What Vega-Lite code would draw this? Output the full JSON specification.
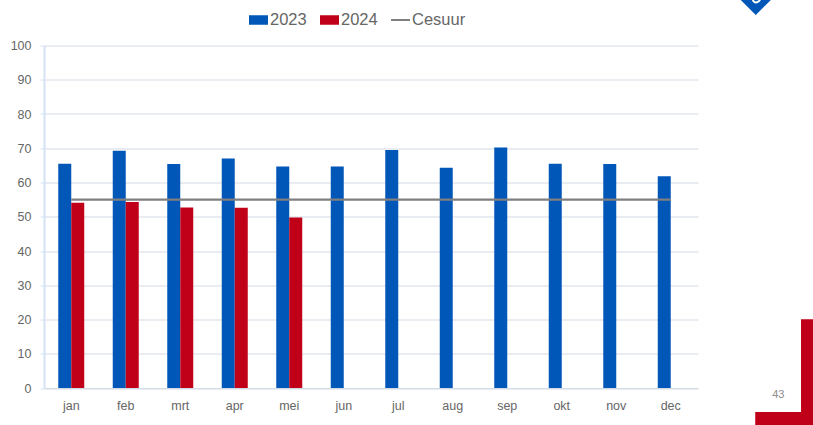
{
"$schema":"https://vega.github.io/schema/vega-lite/v6.json",
"width":654,"height":342.5,
"autosize":{"type":"none"},
"padding":{"left":44,"top":45.5,"right":115,"bottom":37},
"background":"white",
"config":{"view":{"stroke":null},"font":"Liberation Sans"},
"datasets":{
"reeksen":[
{"maand":"jan","reeks":"2023","waarde":65.5},{"maand":"feb","reeks":"2023","waarde":69.3},{"maand":"mrt","reeks":"2023","waarde":65.4},{"maand":"apr","reeks":"2023","waarde":67.0},{"maand":"mei","reeks":"2023","waarde":64.7},{"maand":"jun","reeks":"2023","waarde":64.7},{"maand":"jul","reeks":"2023","waarde":69.5},{"maand":"aug","reeks":"2023","waarde":64.3},{"maand":"sep","reeks":"2023","waarde":70.2},{"maand":"okt","reeks":"2023","waarde":65.5},{"maand":"nov","reeks":"2023","waarde":65.4},{"maand":"dec","reeks":"2023","waarde":61.8},
{"maand":"jan","reeks":"2024","waarde":54.1},{"maand":"feb","reeks":"2024","waarde":54.3},{"maand":"mrt","reeks":"2024","waarde":52.7},{"maand":"apr","reeks":"2024","waarde":52.6},{"maand":"mei","reeks":"2024","waarde":49.8}
],
"cesuur":[
{"maand":"jan","reeks":"Cesuur","waarde":55},{"maand":"feb","reeks":"Cesuur","waarde":55},{"maand":"mrt","reeks":"Cesuur","waarde":55},{"maand":"apr","reeks":"Cesuur","waarde":55},{"maand":"mei","reeks":"Cesuur","waarde":55},{"maand":"jun","reeks":"Cesuur","waarde":55},{"maand":"jul","reeks":"Cesuur","waarde":55},{"maand":"aug","reeks":"Cesuur","waarde":55},{"maand":"sep","reeks":"Cesuur","waarde":55},{"maand":"okt","reeks":"Cesuur","waarde":55},{"maand":"nov","reeks":"Cesuur","waarde":55},{"maand":"dec","reeks":"Cesuur","waarde":55}
],
"hoek":[{"x":13.89,"x2":14.2,"y":20.1,"y2":-11},{"x":13.05,"x2":14.2,"y":-7,"y2":-11}],
"pagina":[{"x":13.05,"y":-1.9,"label":"43"}],
"logo":[{"x":13.06,"y":115.9}],
"logoboog":[{"x":13.08,"y":113.6}]
},
"resolve":{"scale":{"x":"independent"}},
"layer":[
{"data":{"name":"reeksen"},"mark":{"type":"bar","clip":false},
"encoding":{
"x":{"field":"maand","type":"nominal","scale":{"domain":["jan","feb","mrt","apr","mei","jun","jul","aug","sep","okt","nov","dec"],"paddingInner":0.523,"paddingOuter":0.2615},
"axis":{"title":null,"labelAngle":0,"labelColor":"#666666","labelFontSize":12.5,"labelPadding":11,"ticks":false,"domainColor":"#d3dbe6","domainWidth":1,"grid":false}},
"xOffset":{"field":"reeks","type":"nominal","scale":{"domain":["2023","2024"]}},
"y":{"field":"waarde","type":"quantitative","scale":{"domain":[0,100],"nice":false},
"axis":{"title":null,"values":[0,10,20,30,40,50,60,70,80,90,100],"labelOverlap":false,"labelColor":"#666666","labelFontSize":12.5,"labelPadding":9,"tickSize":4,"tickColor":"#d5e2f5","domainColor":"#d5e2f5","domainWidth":2,"gridColor":"#d3dbe6","gridWidth":1.2,"grid":true}},
"color":{"field":"reeks","type":"nominal","scale":{"domain":["2023","2024","Cesuur"],"range":["#0057b8","#c00018","#7f7f7f"]},
"legend":{"title":null,"orient":"none","legendX":205,"legendY":-35,"direction":"horizontal","columns":3,"labelFontSize":16.5,"labelColor":"#666666","labelOffset":2,"columnPadding":13,"symbolSize":361,"symbolType":"M-1,-0.5H1V0.5H-1Z","symbolStrokeWidth":0,
"encode":{"symbols":{"update":{"shape":{"signal":"datum.value==='Cesuur' ? 'M-1,-0.105H1V0.105H-1Z' : 'M-1,-0.5H1V0.5H-1Z'"}}}}}}
}},
{"data":{"name":"cesuur"},"mark":{"type":"line","strokeWidth":2.2},
"encoding":{
"x":{"field":"maand","type":"nominal","scale":{"domain":["jan","feb","mrt","apr","mei","jun","jul","aug","sep","okt","nov","dec"],"paddingInner":0.523,"paddingOuter":0.2615},"axis":null},
"y":{"field":"waarde","type":"quantitative",
"axis":{"title":null,"values":[0,10,20,30,40,50,60,70,80,90,100],"labelOverlap":false,"labelColor":"#666666","labelFontSize":12.5,"labelPadding":9,"tickSize":4,"tickColor":"#d5e2f5","domainColor":"#d5e2f5","domainWidth":2,"gridColor":"#d3dbe6","gridWidth":1.2,"grid":true}},
"color":{"field":"reeks","type":"nominal"}
}},
{"data":{"name":"hoek"},"mark":{"type":"rect","color":"#c00018","clip":false},
"encoding":{
"x":{"field":"x","type":"quantitative","scale":{"domain":[0,12],"nice":false,"zero":false},"axis":null},
"x2":{"field":"x2"},
"y":{"field":"y","type":"quantitative",
"axis":{"title":null,"values":[0,10,20,30,40,50,60,70,80,90,100],"labelOverlap":false,"labelColor":"#666666","labelFontSize":12.5,"labelPadding":9,"tickSize":4,"tickColor":"#d5e2f5","domainColor":"#d5e2f5","domainWidth":2,"gridColor":"#d3dbe6","gridWidth":1.2,"grid":true}},
"y2":{"field":"y2"}
}},
{"data":{"name":"logo"},"mark":{"type":"point","shape":"diamond","filled":true,"color":"#0057b8","size":2304,"opacity":1},
"encoding":{
"x":{"field":"x","type":"quantitative","scale":{"domain":[0,12],"nice":false,"zero":false},"axis":null},
"y":{"field":"y","type":"quantitative",
"axis":{"title":null,"values":[0,10,20,30,40,50,60,70,80,90,100],"labelOverlap":false,"labelColor":"#666666","labelFontSize":12.5,"labelPadding":9,"tickSize":4,"tickColor":"#d5e2f5","domainColor":"#d5e2f5","domainWidth":2,"gridColor":"#d3dbe6","gridWidth":1.2,"grid":true}}
}},
{"data":{"name":"logoboog"},"mark":{"type":"point","shape":"M-1,0 C-1,1.3 1,1.3 1,-1","filled":false,"stroke":"white","strokeWidth":2,"size":64,"opacity":1},
"encoding":{
"x":{"field":"x","type":"quantitative","scale":{"domain":[0,12],"nice":false,"zero":false},"axis":null},
"y":{"field":"y","type":"quantitative",
"axis":{"title":null,"values":[0,10,20,30,40,50,60,70,80,90,100],"labelOverlap":false,"labelColor":"#666666","labelFontSize":12.5,"labelPadding":9,"tickSize":4,"tickColor":"#d5e2f5","domainColor":"#d5e2f5","domainWidth":2,"gridColor":"#d3dbe6","gridWidth":1.2,"grid":true}}
}},
{"data":{"name":"pagina"},"mark":{"type":"text","align":"left","baseline":"middle","fontSize":11,"color":"#8c8c8c","dx":17},
"encoding":{
"x":{"field":"x","type":"quantitative","scale":{"domain":[0,12],"nice":false,"zero":false},"axis":null},
"y":{"field":"y","type":"quantitative",
"axis":{"title":null,"values":[0,10,20,30,40,50,60,70,80,90,100],"labelOverlap":false,"labelColor":"#666666","labelFontSize":12.5,"labelPadding":9,"tickSize":4,"tickColor":"#d5e2f5","domainColor":"#d5e2f5","domainWidth":2,"gridColor":"#d3dbe6","gridWidth":1.2,"grid":true}},
"text":{"field":"label"}
}}
]
}
